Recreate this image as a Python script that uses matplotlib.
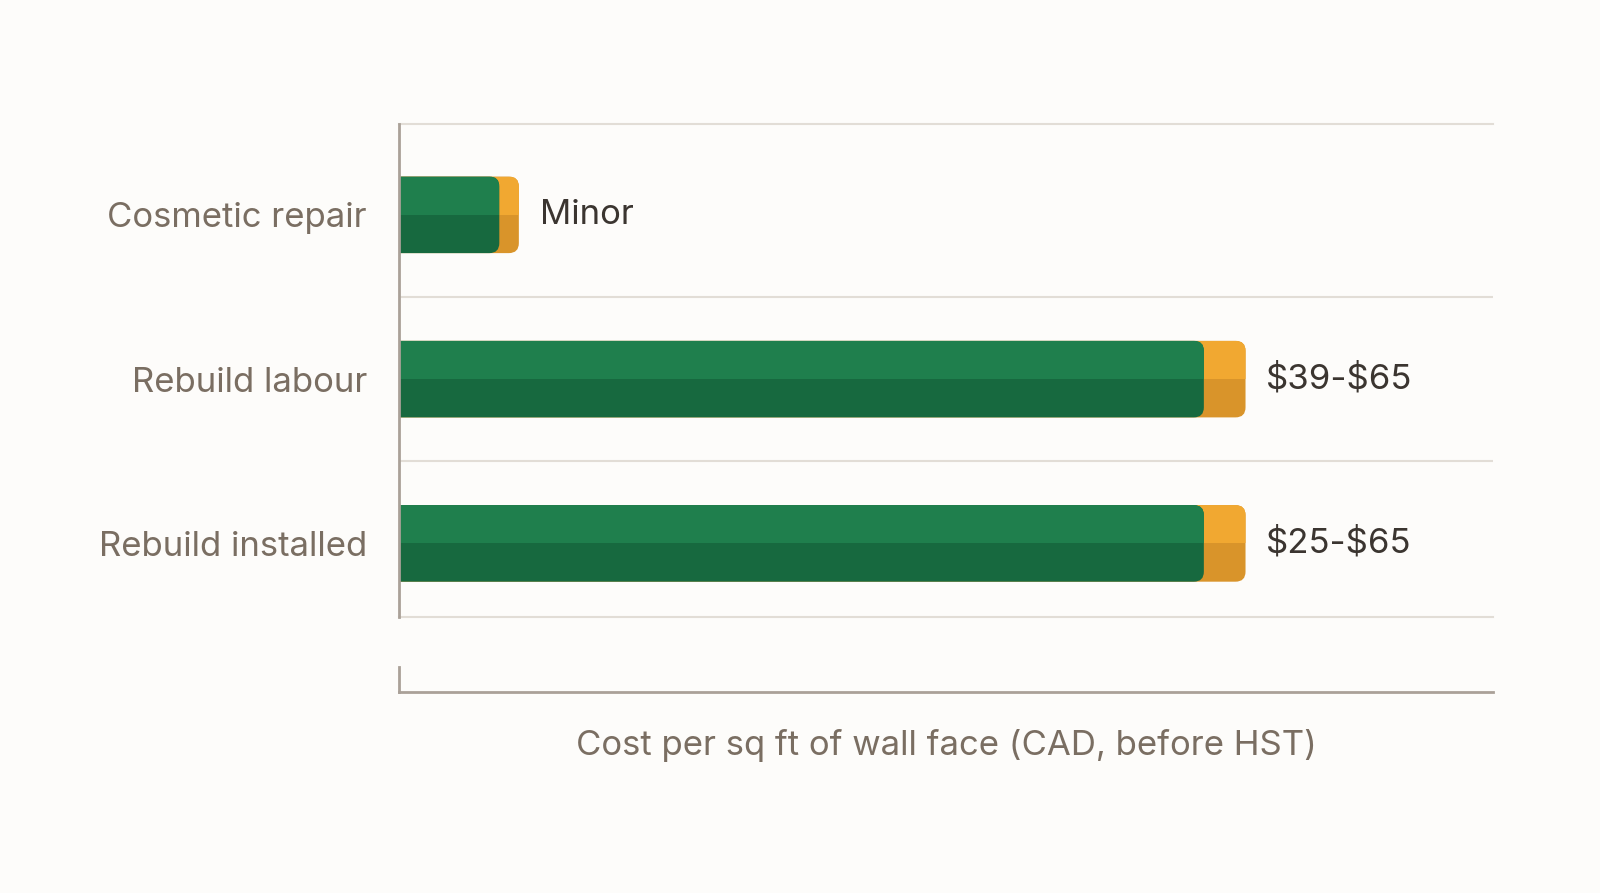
import matplotlib.pyplot as plt
from matplotlib.patches import FancyBboxPatch, Rectangle

plt.rcParams['font.family'] = ['Inter', 'DejaVu Sans']

# data
categories = ['Cosmetic repair', 'Rebuild labour', 'Rebuild installed']
green_end = [7.7, 61.8, 61.8]
bar_end = [9.2, 65, 65]
value_labels = ['Minor', r'\$39-\$65', r'\$25-\$65']
x_max = 84

bg = '#fdfcfa'
green_top, green_bot = '#1f7f4d', '#17693f'
orange_top, orange_bot = '#f1a831', '#d9942a'
grid_col = '#e2ddd6'
spine_col = '#aaa198'
label_col = '#7a6e62'
value_col = '#3b3530'

fig = plt.figure(figsize=(16, 8.93), dpi=100, facecolor=bg)
ax = fig.add_axes([0.2494, 0.3087, 0.6837, 0.5519], facecolor=bg)
ax.set_xlim(0, x_max)
y_top, y_bot = -0.55, 2.45
ax.set_ylim(y_bot, y_top)

bar_h = 0.466
# data units per pixel, to keep the corner rounding circular
x_per_px = x_max / (0.6837 * 1600)
y_per_px = 3.0 / (0.5519 * 893)
aspect = y_per_px / x_per_px
radius = 10 * x_per_px


def rounded_bar(y, x_end, c_top, c_bot):
    x0 = -3
    kw = dict(boxstyle=f'round,pad=0,rounding_size={radius}',
              mutation_aspect=aspect, linewidth=0)
    dark = FancyBboxPatch((x0, y - bar_h / 2), x_end - x0, bar_h,
                          facecolor=c_bot, **kw)
    ax.add_patch(dark)
    light = FancyBboxPatch((x0, y - bar_h / 2), x_end - x0, bar_h,
                           facecolor=c_top, **kw)
    ax.add_patch(light)
    # upper half only, and nothing left of the axis
    clip = Rectangle((0, y - bar_h / 2), x_end, bar_h / 2,
                     transform=ax.transData)
    light.set_clip_path(clip)


for i, cat in enumerate(categories):
    rounded_bar(i, bar_end[i], orange_top, orange_bot)
    rounded_bar(i, green_end[i], green_top, green_bot)
    ax.annotate(value_labels[i], (bar_end[i], i), xytext=(15, 0),
                textcoords='offset points', va='center', ha='left',
                fontsize=25, color=value_col)

for yb in [0.5, 1.5]:
    ax.axhline(yb, color=grid_col, lw=1.5, zorder=0)

ax.set_yticks(range(len(categories)))
ax.set_yticklabels(categories, fontsize=25, color=label_col)
ax.tick_params(axis='y', length=0, pad=23)
ax.set_xticks([])
for s in ['top', 'bottom', 'right']:
    ax.spines[s].set_visible(False)
ax.spines['left'].set_color(spine_col)
ax.spines['left'].set_linewidth(2)
ax.axhline(y_top, color=grid_col, lw=1.5, clip_on=False)
ax.axhline(y_bot, color=grid_col, lw=1.5, clip_on=False)

# separate x-axis strip below
ax2 = fig.add_axes([0.2494, 0.2253, 0.6837, 0.0274], facecolor='none')
ax2.set_xlim(0, x_max)
ax2.set_xticks([])
ax2.set_yticks([])
for s in ['top', 'right']:
    ax2.spines[s].set_visible(False)
for s in ['left', 'bottom']:
    ax2.spines[s].set_color(spine_col)
    ax2.spines[s].set_linewidth(2)
ax2.set_xlabel('Cost per sq ft of wall face (CAD, before HST)', fontsize=25,
               color=label_col, labelpad=27)

fig.savefig('out.png', dpi=100, facecolor=bg)
